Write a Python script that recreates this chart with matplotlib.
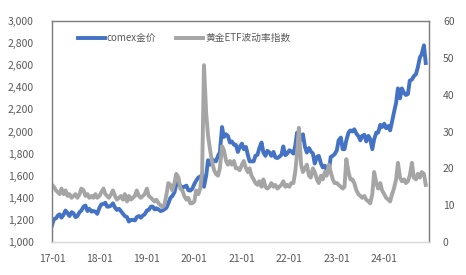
import matplotlib
matplotlib.use("Agg")
import matplotlib.pyplot as plt
import pandas as pd
import numpy as np

plt.rcParams['font.family'] = ['Noto Sans CJK SC', 'DejaVu Sans']

# semi-monthly observations (1st and 15th of each month), 2017-01 .. 2024-11
gold_2017 = [1150, 1205, 1215, 1240, 1250, 1220, 1250, 1285, 1260, 1235, 1270, 1260,
             1225, 1235, 1270, 1285, 1320, 1330, 1280, 1300, 1275, 1280, 1275, 1255]
gold_2018 = [1310, 1340, 1345, 1355, 1320, 1320, 1330, 1350, 1310, 1290, 1300, 1280,
             1255, 1235, 1225, 1185, 1200, 1200, 1195, 1225, 1235, 1220, 1240, 1250]
gold_2019 = [1285, 1290, 1320, 1320, 1295, 1305, 1295, 1280, 1285, 1295, 1310, 1350,
             1400, 1415, 1450, 1520, 1540, 1505, 1490, 1500, 1510, 1470, 1465, 1480]
gold_2020 = [1525, 1555, 1585, 1590, 1610, 1500, 1600, 1740, 1700, 1750, 1735, 1730,
             1780, 1810, 2040, 1950, 1975, 1960, 1900, 1910, 1880, 1880, 1815, 1860]
gold_2021 = [1890, 1840, 1860, 1790, 1730, 1730, 1730, 1780, 1790, 1850, 1900, 1810,
             1780, 1825, 1810, 1780, 1815, 1765, 1760, 1770, 1790, 1865, 1785, 1800]
gold_2022 = [1830, 1820, 1800, 1870, 1990, 1930, 1925, 1975, 1860, 1810, 1850, 1820,
             1800, 1710, 1770, 1780, 1710, 1675, 1690, 1650, 1640, 1770, 1780, 1795]
gold_2023 = [1830, 1920, 1945, 1840, 1840, 1920, 1990, 2010, 2000, 2020, 1980, 1960,
             1920, 1960, 1970, 1910, 1960, 1930, 1840, 1930, 1990, 1990, 2060, 2040]
gold_2024 = [2070, 2030, 2050, 2010, 2090, 2170, 2260, 2390, 2300, 2390, 2350, 2330,
             2340, 2460, 2470, 2500, 2520, 2580, 2670, 2700, 2780, 2620]

gvz_2017 = [15.5, 15, 14, 13.5, 13, 14.5, 13, 14, 12.5, 13, 12, 12.5,
            13, 12, 13, 14.5, 14, 12.5, 13, 12, 12.5, 12, 13, 12]
gvz_2018 = [12.5, 13.5, 14.5, 13, 12.5, 12, 13, 14, 12.5, 11.5, 12, 12.5,
            11.5, 13, 11, 12.5, 11.5, 12, 12.5, 14, 12.5, 12, 12.5, 13]
gvz_2019 = [14.5, 12.5, 12, 11.5, 11, 11.5, 10.5, 10, 9.5, 10, 13, 16,
            15.5, 14, 16, 18.5, 17.5, 14.5, 14, 12.5, 11.5, 12, 10.5, 10.5]
gvz_2020 = [11, 14, 13, 14.5, 19, 48, 35, 29, 25, 22, 19.5, 18.5,
            18, 20, 26, 25, 22, 21, 22, 21, 22, 20, 20, 19.5]
gvz_2021 = [21, 22, 20, 19, 20, 18, 17, 16, 15.5, 16.5, 15, 17,
            15, 14.5, 15, 16, 15, 15.5, 14.5, 15, 15.5, 16.5, 15, 15.5]
gvz_2022 = [15, 16, 16, 19, 24, 31, 21, 19, 20, 21, 18, 17.5,
            20, 19, 17, 16, 18, 17, 19, 18, 21, 19, 17, 16]
gvz_2023 = [16, 15.5, 15, 14.5, 15, 22.5, 19, 17, 17, 16, 14, 13,
            12.5, 12, 12.5, 11.5, 11, 10.5, 13, 19, 16, 14.5, 16, 14]
gvz_2024 = [13, 12, 11.5, 11, 13, 14.5, 17, 21.5, 17.5, 16.5, 17, 16,
            16.5, 18, 21.5, 17.5, 17, 18.5, 17.5, 19, 18.5, 15.5]

gold = gold_2017 + gold_2018 + gold_2019 + gold_2020 + gold_2021 + gold_2022 + gold_2023 + gold_2024
gvz = gvz_2017 + gvz_2018 + gvz_2019 + gvz_2020 + gvz_2021 + gvz_2022 + gvz_2023 + gvz_2024
dates = pd.date_range('2017-01-01', periods=len(gold), freq='SMS')

tick_labels = ['17-01', '18-01', '19-01', '20-01', '21-01', '22-01', '23-01', '24-01']
tick_dates = pd.to_datetime(['2017-01-01', '2018-01-01', '2019-01-01', '2020-01-01',
                             '2021-01-01', '2022-01-01', '2023-01-01', '2024-01-01'])
series_names = ['comex金价', '黄金ETF波动率指数']

blue = '#4472C4'
grey = '#A5A5A5'
txt = '#595959'

fig = plt.figure(figsize=(4.66, 2.75), dpi=100)
ax = fig.add_axes([52/466, 1-242/275, (429-52)/466, (242-21)/275])
ax2 = ax.twinx()

l1, = ax.plot(dates, gold, color=blue, lw=2.8, solid_joinstyle='round')
l2, = ax2.plot(dates, gvz, color=grey, lw=2.8, solid_joinstyle='round')

ax.set_ylim(1000, 3000)
ax.set_yticks(np.arange(1000, 3001, 200))
ax.set_yticklabels([f'{v:,}' for v in range(1000, 3001, 200)])
ax2.set_ylim(0, 60)
ax2.set_yticks(range(0, 61, 10))
ax.set_xlim(pd.Timestamp('2017-01-01'), pd.Timestamp('2024-12-10'))
ax.set_xticks(tick_dates)
ax.set_xticklabels(tick_labels)

for a in (ax, ax2):
    for s in ('left', 'right', 'top'):
        a.spines[s].set_color('#808080')
        a.spines[s].set_linewidth(0.9)
    a.spines['bottom'].set_color('#D9D9D9')
    a.spines['bottom'].set_linewidth(0.9)
    a.tick_params(length=0, labelsize=7.5, colors=txt)
ax.tick_params(axis='y', pad=13)
ax2.tick_params(axis='y', pad=10)
ax.tick_params(axis='x', pad=9)

leg = ax2.legend([l1, l2], series_names, loc='center left', bbox_to_anchor=(0.058, 0.923),
                 borderaxespad=0, ncol=2, frameon=False, fontsize=7, handlelength=2.8,
                 handletextpad=0.2, columnspacing=2.0, labelcolor=txt)

fig.savefig('out.png', dpi=100)
